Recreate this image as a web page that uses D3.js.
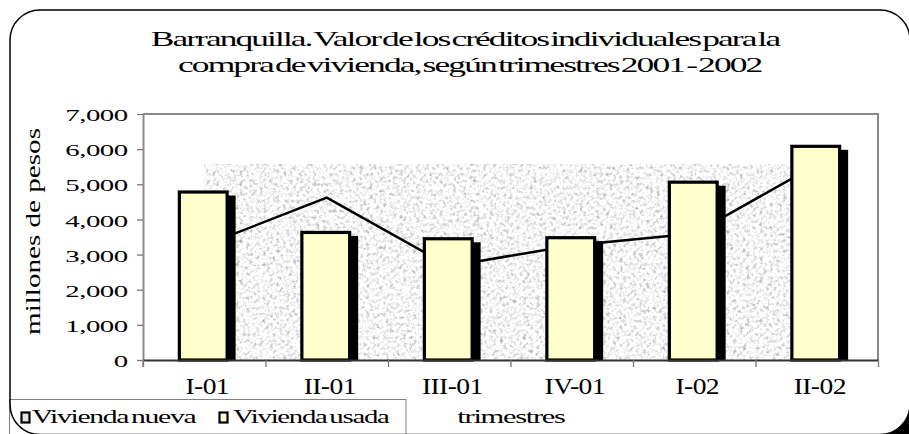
<!DOCTYPE html>
<html>
<head>
<meta charset="utf-8">
<script src="https://cdn.jsdelivr.net/npm/d3@7"></script>
<style>
  html, body { margin: 0; padding: 0; background: #fff; overflow: hidden; scrollbar-width: none; }
  ::-webkit-scrollbar { width: 0; height: 0; display: none; }
  svg { display: block; }
</style>
</head>
<body>
<div id="chart"></div>
<script>
// data
const quarters = ['I-01', 'II-01', 'III-01', 'IV-01', 'I-02', 'II-02'];
const viviendaNueva = [3260, 4620, 2670, 3260, 3600, 5560];
const viviendaUsada = [4780, 3630, 3450, 3480, 5060, 6080];
const yTicks = [0, 1000, 2000, 3000, 4000, 5000, 6000, 7000];
const seriesNames = ['Vivienda nueva', 'Vivienda usada'];
const titleLines = [
  'Barranquilla. Valor de los créditos individuales para la',
  'compra de vivienda, según trimestres 2001 - 2002'
];

const width = 909, height = 434;
const plot = { left: 143, right: 878, top: 114, bottom: 360 };
const FONT = 'Liberation Serif';

const svg = d3.select('#chart').append('svg')
  .attr('width', width)
  .attr('height', height)
  .attr('font-family', FONT)
  .attr('fill', '#000');

const defs = svg.append('defs');
// grainy gray texture used for the area series
defs.html(`
  <filter id="grain" x="0" y="0" width="100%" height="100%" color-interpolation-filters="sRGB">
    <feTurbulence type="fractalNoise" baseFrequency="0.3" numOctaves="3" seed="7" result="n"/>
    <feColorMatrix in="n" type="matrix" values="0.33 0.33 0.33 0 0 0.33 0.33 0.33 0 0 0.33 0.33 0.33 0 0 0 0 0 0 1" result="g"/>
    <feComponentTransfer in="g">
      <feFuncR type="linear" slope="1.15" intercept="0.4"/>
      <feFuncG type="linear" slope="1.15" intercept="0.4"/>
      <feFuncB type="linear" slope="1.15" intercept="0.4"/>
      <feFuncA type="linear" slope="0" intercept="1"/>
    </feComponentTransfer>
  </filter>`);

// text squeezed/stretched to a given width (the original is rendered very wide)
function fitText(parent, str, x, y, target, o) {
  const t = parent.append('text')
    .attr('font-family', FONT)
    .attr('text-anchor', o.anchor || 'middle')
    .attr('font-size', o.size)
    .attr('letter-spacing', o.ls || 0)
    .attr('word-spacing', o.ws || 0)
    .text(str);
  const w = t.node().getBBox().width;
  t.attr('transform', `translate(${x},${y}) scale(${target / w},1)`);
  return t;
}

// page background
svg.append('rect')
  .attr('width', width).attr('height', height)
  .attr('fill', '#fff');
// black only outside the bottom-right rounded corner, then the white frame
svg.append('rect')
  .attr('x', 860).attr('y', 390).attr('width', 49).attr('height', 44)
  .attr('fill', '#000');
const frame = { x: 10, y: 10, w: 900, h: 424.5, r: 30 };
svg.append('rect')
  .attr('x', frame.x).attr('y', frame.y).attr('width', frame.w).attr('height', frame.h)
  .attr('rx', frame.r).attr('fill', '#fff');

// title
fitText(svg, titleLines[0], 465, 45.7, 631, { size: 22, ls: -1.2, ws: -3 });
fitText(svg, titleLines[1], 469.7, 71.7, 584, { size: 22, ls: -1.2, ws: -3 });

// scales
const xScale = d3.scaleBand().domain(quarters).range([plot.left, plot.right]).padding(0);
const xEdge = d3.scaleLinear().domain([0, quarters.length]).range([plot.left, plot.right]);
const yScale = d3.scaleLinear().domain([0, 7000]).range([plot.bottom, plot.top]);
const bw = xScale.bandwidth();
const cx = q => xScale(q) + bw / 2;

const g = svg.append('g');

// plot area background
g.append('rect')
  .attr('x', plot.left).attr('y', plot.top)
  .attr('width', plot.right - plot.left).attr('height', plot.bottom - plot.top)
  .attr('fill', '#fff');

// Vivienda nueva: textured area + black line
const nx0 = cx(quarters[0]), nx1 = cx(quarters[quarters.length - 1]);
g.append('rect')
  .attr('x', nx0).attr('y', yScale(d3.max(viviendaNueva)))
  .attr('width', nx1 - nx0).attr('height', yScale(0) - yScale(d3.max(viviendaNueva)))
  .attr('fill', '#eee')
  .attr('filter', 'url(#grain)');

const line = d3.line()
  .x((d, i) => cx(quarters[i]))
  .y(d => yScale(d));
g.append('path')
  .datum(viviendaNueva)
  .attr('d', line)
  .attr('fill', 'none')
  .attr('stroke', '#000')
  .attr('stroke-width', 2.5);

// Vivienda usada: bars with a black drop shadow
const barW = bw * 0.39;
const barX = q => xScale(q) + (bw - barW) / 2 - 1;
g.append('g')
  .selectAll('rect')
  .data(viviendaUsada)
  .join('rect')
  .attr('x', (d, i) => barX(quarters[i]) - 1.5 + 7)
  .attr('y', d => yScale(d) - 1.5 + 5)
  .attr('width', barW + 3)
  .attr('height', d => yScale(0) - (yScale(d) - 1.5 + 5))
  .attr('fill', '#000');
g.append('g')
  .selectAll('rect')
  .data(viviendaUsada)
  .join('rect')
  .attr('x', (d, i) => barX(quarters[i]))
  .attr('y', d => yScale(d))
  .attr('width', barW)
  .attr('height', d => yScale(0) - yScale(d))
  .attr('fill', '#ffffcc')
  .attr('stroke', '#000')
  .attr('stroke-width', 3.2);

// plot area border (top and right)
g.append('path')
  .attr('d', `M${plot.left},${plot.top}H${plot.right}V${plot.bottom}`)
  .attr('fill', 'none')
  .attr('stroke', '#8a8a8a')
  .attr('stroke-width', 2);

// y axis
const yAxis = g.append('g')
  .attr('transform', `translate(${plot.left},0)`)
  .call(d3.axisLeft(yScale).tickValues(yTicks).tickFormat(d3.format(',')).tickSizeInner(6).tickSizeOuter(0))
  .attr('font-family', FONT);
yAxis.select('.domain').attr('stroke', '#8a8a8a').attr('stroke-width', 2);
yAxis.selectAll('.tick line').attr('stroke', '#777').attr('stroke-width', 1.3);
yAxis.selectAll('.tick text')
  .attr('x', 0).attr('dy', null).attr('y', 0)
  .attr('fill', '#000')
  .attr('font-size', 17)
  .attr('letter-spacing', -0.3)
  .attr('transform', 'translate(-15.3,6.7) scale(1.7,1)');
g.append('line')
  .attr('x1', plot.left).attr('x2', plot.left)
  .attr('y1', plot.bottom).attr('y2', plot.bottom + 7)
  .attr('stroke', '#777').attr('stroke-width', 1.3);

// x axis: boundary ticks + centred labels
const xTicks = g.append('g')
  .attr('transform', `translate(0,${plot.bottom})`)
  .call(d3.axisBottom(xEdge).ticks(quarters.length).tickFormat('').tickSizeInner(7).tickSizeOuter(0));
xTicks.select('.domain').attr('stroke', '#333').attr('stroke-width', 2);
xTicks.selectAll('.tick line').attr('stroke', '#777').attr('stroke-width', 1.3);

const xAxis = g.append('g')
  .attr('transform', `translate(0,${plot.bottom})`)
  .call(d3.axisBottom(xScale).tickSize(0))
  .attr('font-family', FONT);
xAxis.select('.domain').remove();
xAxis.selectAll('.tick text')
  .attr('y', 0).attr('dy', null)
  .attr('fill', '#000')
  .attr('font-size', 23)
  .attr('letter-spacing', -0.5)
  .attr('transform', 'translate(3,34) scale(1.2,1)');

// axis titles
const yt = svg.append('text')
  .attr('font-family', FONT)
  .attr('text-anchor', 'middle')
  .attr('font-size', 21)
  .text('millones de pesos');
const ytw = yt.node().getBBox().width;
yt.attr('transform', `translate(40,231.5) rotate(-90) scale(${207 / ytw},1)`);

fitText(svg, 'trimestres', 511, 423.3, 108, { size: 19, ls: -0.8 });

// legend
const lg = svg.append('g');
lg.append('rect')
  .attr('x', 9.5).attr('y', 399.5).attr('width', 396.5).attr('height', 50)
  .attr('fill', '#fff').attr('stroke', '#808080').attr('stroke-width', 1);
const legendFill = ['#e4e4e4', '#ffffcc'];
const legendBox = [21.5, 219.5];
const legendText = [[31.7, 165], [233, 157]];
seriesNames.forEach((name, i) => {
  lg.append('rect')
    .attr('x', legendBox[i]).attr('y', 412.5)
    .attr('width', 8).attr('height', 10)
    .attr('fill', legendFill[i]).attr('stroke', '#000').attr('stroke-width', 2.2);
  fitText(lg, name, legendText[i][0], 423.3, legendText[i][1], { size: 18, ls: -0.8, ws: -2, anchor: 'start' });
});

// frame stroke drawn last so the corner shows over the legend
svg.append('rect')
  .attr('x', frame.x).attr('y', frame.y).attr('width', frame.w).attr('height', frame.h)
  .attr('rx', frame.r).attr('fill', 'none').attr('stroke', '#000').attr('stroke-width', 1.5);
</script>
</body>
</html>
